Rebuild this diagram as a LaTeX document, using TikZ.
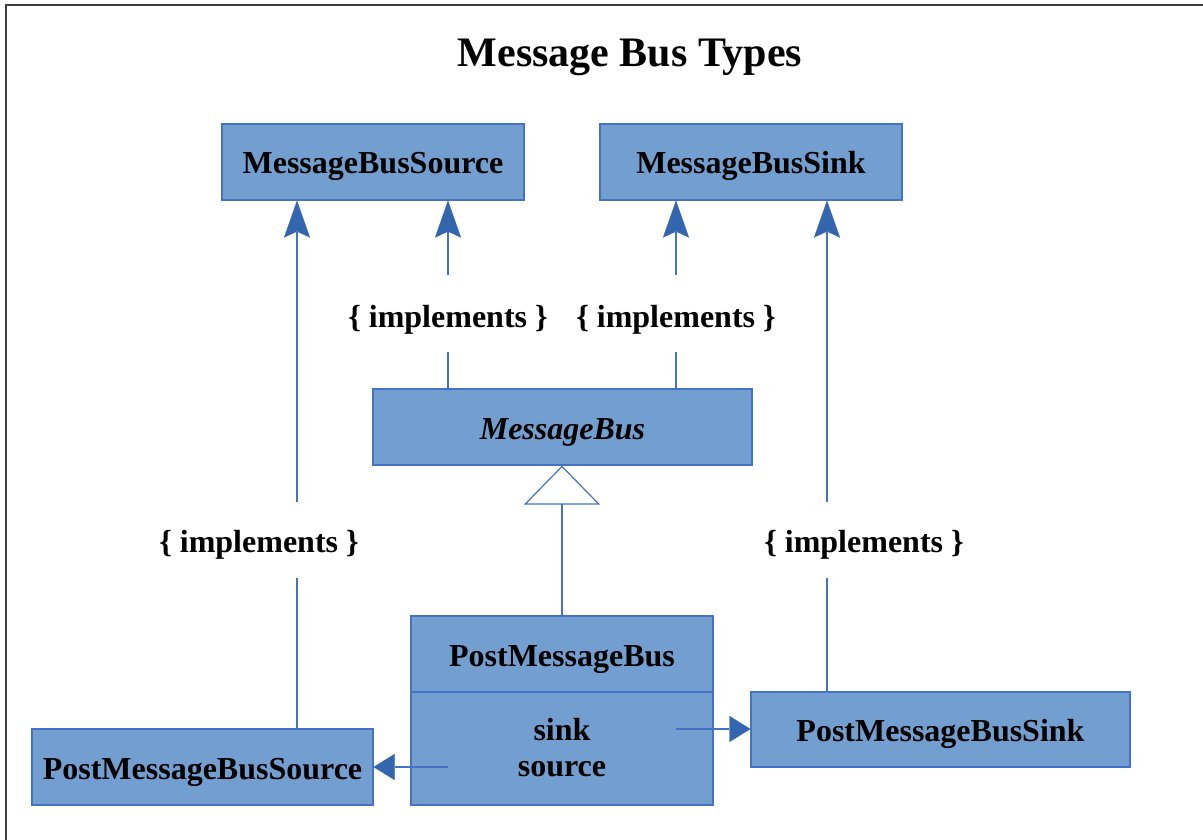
\documentclass[tikz,border=0pt]{standalone}
\usepackage{fontspec}
\setmainfont{Liberation Serif}
\usetikzlibrary{arrows.meta}
\definecolor{boxfill}{RGB}{114,159,207}
\definecolor{boxline}{RGB}{68,114,196}
\definecolor{headblue}{RGB}{52,102,176}
\definecolor{framegray}{RGB}{64,64,64}
\begin{document}
\begin{tikzpicture}[x=1pt,y=-1pt,
  umlbox/.style={draw=boxline, fill=boxfill, line width=1.1pt, inner sep=0pt,
    font=\fontsize{32}{38}\selectfont\bfseries, text height=24pt, text depth=0pt},
  lbl/.style={font=\fontsize{32}{38}\selectfont\bfseries, inner sep=0pt, anchor=base},
  conn/.style={draw=boxline, line width=1.2pt},
  implarrow/.style={conn, -{Stealth[length=37pt,width=26pt,inset=6pt,fill=headblue,color=headblue,line width=0.1pt]}},
  assocarrow/.style={conn, -{Triangle[length=21pt,width=26pt,fill=headblue,color=headblue,line width=0.1pt]}},
  inherit/.style={conn, -{Triangle[open,length=39pt,width=76pt,fill=white,color=boxline]}}]

\useasboundingbox (0,0) rectangle (1203,840);
\draw[framegray, line width=2pt] (6,840) -- (6,5) -- (1203,5);

% title
\node[lbl, font=\fontsize{42}{50}\selectfont\bfseries] (title) at (630,67) {Message Bus Types};

% classes
\node[umlbox, minimum width=302pt, minimum height=76pt] (mbsrc) at (373,162) {MessageBusSource};
\node[umlbox, minimum width=302pt, minimum height=76pt] (mbsink) at (751,162) {MessageBusSink};
\node[umlbox, minimum width=379pt, minimum height=76pt] (mbus) at (562.5,427) {\itshape MessageBus};
\node[umlbox, minimum width=302pt, minimum height=76pt] (pmbt) at (562,654) {PostMessageBus};
\node[umlbox, minimum width=302pt, minimum height=113pt] (pmbb) at (562,748.5) {};
\node[umlbox, minimum width=341pt, minimum height=76pt] (pmsrc) at (202.5,767) {PostMessageBusSource};
\node[umlbox, minimum width=379pt, minimum height=75pt] (pmsink) at (940.5,729.5) {PostMessageBusSink};

% attributes
\node[lbl] (asink) at (562,740) {sink};
\node[lbl] (asrc) at (562,776) {source};

% labels
\node[lbl] (l1) at (259,552) {\{ implements \}};
\node[lbl] (l2) at (448,327) {\{ implements \}};
\node[lbl] (l3) at (676,327) {\{ implements \}};
\node[lbl] (l4) at (864,552) {\{ implements \}};

% implements connectors
\coordinate (a1) at (297,502); \coordinate (b1) at (297,578);
\draw[conn] (pmsrc.north -| b1) -- (b1);
\draw[implarrow] (a1) -- (mbsrc.south -| a1);

\coordinate (a2) at (448,275); \coordinate (b2) at (448,352);
\draw[conn] (mbus.north -| b2) -- (b2);
\draw[implarrow] (a2) -- (mbsrc.south -| a2);

\coordinate (a3) at (676,275); \coordinate (b3) at (676,352);
\draw[conn] (mbus.north -| b3) -- (b3);
\draw[implarrow] (a3) -- (mbsink.south -| a3);

\coordinate (a4) at (827,502); \coordinate (b4) at (827,578);
\draw[conn] (pmsink.north -| b4) -- (b4);
\draw[implarrow] (a4) -- (mbsink.south -| a4);

% inheritance
\draw[inherit] (pmbt.north) -- (mbus.south -| pmbt.north);

% associations
\coordinate (s1) at (676,729);
\draw[assocarrow] (s1) -- (pmsink.west |- s1);
\coordinate (s2) at (448,767);
\draw[assocarrow] (s2) -- (pmsrc.east |- s2);
\end{tikzpicture}
\end{document}
